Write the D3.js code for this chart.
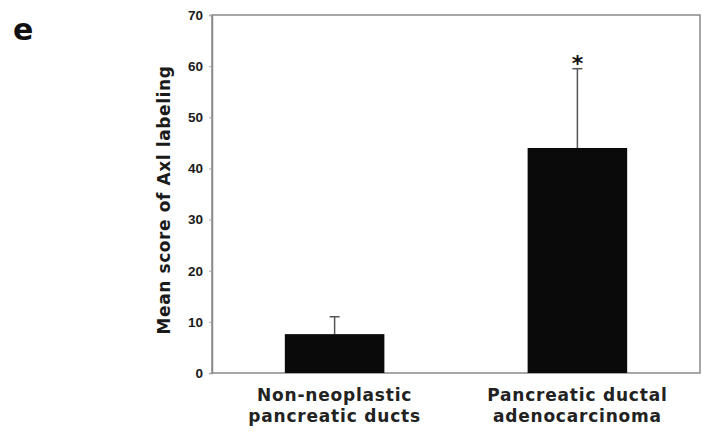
<!DOCTYPE html>
<html>
<head>
<meta charset="utf-8">
<script src="https://cdn.jsdelivr.net/npm/d3@7"></script>
<style>
  body { margin: 0; background: #fff; }
  svg { display: block; font-family: "DejaVu Sans", Verdana, sans-serif; }
</style>
</head>
<body>
<div id="chart"></div>
<script>
const categories = [["Non-neoplastic", "pancreatic ducts"], ["Pancreatic ductal", "adenocarcinoma"]];
const means = [7.6, 44.0];
const errors = [3.4, 15.5];
const significant = [false, true];
const yTicks = [0, 10, 20, 30, 40, 50, 60, 70];

const width = 702, height = 434;
const margin = { top: 15, right: 2, bottom: 61, left: 212 };

const svg = d3.select("#chart").append("svg")
    .attr("width", width)
    .attr("height", height);

const x = d3.scaleBand()
    .domain(d3.range(categories.length))
    .range([margin.left, width - margin.right])
    .paddingInner(0.59)
    .paddingOuter(0.3);

const y = d3.scaleLinear()
    .domain([0, 70])
    .range([height - margin.bottom, margin.top]);

// plot frame
svg.append("rect")
    .attr("x", margin.left)
    .attr("y", margin.top)
    .attr("width", width - margin.right - margin.left)
    .attr("height", y(0) - margin.top)
    .attr("fill", "none")
    .attr("stroke", "#8a8a8a")
    .attr("stroke-width", 1.5);

// y axis
const yAxis = svg.append("g")
    .attr("transform", `translate(${margin.left},0)`)
    .call(d3.axisLeft(y).tickValues(yTicks).tickSize(3).tickPadding(6));
yAxis.select(".domain").attr("stroke", "#8a8a8a").attr("stroke-width", 1.5);
yAxis.selectAll(".tick line").attr("stroke", "#aaa");
yAxis.selectAll(".tick text")
    .attr("font-size", 13.5)
    .attr("font-weight", "bold")
    .attr("fill", "#1a1a1a");

svg.append("text")
    .attr("transform", `translate(170,200) rotate(-90)`)
    .attr("text-anchor", "middle")
    .attr("font-size", 17)
    .attr("font-weight", "bold")
    .attr("letter-spacing", 0.6)
    .attr("fill", "#1a1a1a")
    .text("Mean score of Axl labeling");

// error bars (upper half only)
const err = svg.append("g").attr("stroke", "#555").attr("stroke-width", 1.5);
means.forEach((m, i) => {
    const cx = x(i) + x.bandwidth() / 2;
    err.append("line")
        .attr("x1", cx).attr("x2", cx)
        .attr("y1", y(m)).attr("y2", y(m + errors[i]));
    err.append("line")
        .attr("x1", cx - 5).attr("x2", cx + 5)
        .attr("y1", y(m + errors[i])).attr("y2", y(m + errors[i]));
});

// bars
svg.append("g")
    .selectAll("rect")
    .data(means)
    .join("rect")
    .attr("x", (d, i) => x(i))
    .attr("y", d => y(d))
    .attr("width", x.bandwidth())
    .attr("height", d => y(0) - y(d))
    .attr("fill", "#0a0a0a");

// significance marker
svg.append("g")
    .selectAll("text")
    .data(means.map((m, i) => ({ m, i })).filter(d => significant[d.i]))
    .join("text")
    .attr("x", d => x(d.i) + x.bandwidth() / 2)
    .attr("y", d => y(d.m + errors[d.i]) + 2)
    .attr("text-anchor", "middle")
    .attr("font-size", 22)
    .attr("font-weight", "bold")
    .attr("fill", "#111")
    .text("*");

// category labels
const labels = svg.append("g")
    .selectAll("text")
    .data(categories)
    .join("text")
    .attr("x", (d, i) => x(i) + x.bandwidth() / 2)
    .attr("y", 401)
    .attr("text-anchor", "middle")
    .attr("font-size", 17)
    .attr("font-weight", "bold")
    .attr("letter-spacing", 0.8)
    .attr("fill", "#222");
labels.each(function (d) {
    d3.select(this).selectAll("tspan")
        .data(d)
        .join("tspan")
        .attr("x", d3.select(this).attr("x"))
        .attr("dy", (t, j) => j === 0 ? 0 : 21)
        .text(t => t);
});

// panel letter
svg.append("text")
    .attr("x", 13)
    .attr("y", 40)
    .attr("font-size", 30)
    .attr("font-weight", "bold")
    .attr("fill", "#111")
    .text("e");
</script>
</body>
</html>
